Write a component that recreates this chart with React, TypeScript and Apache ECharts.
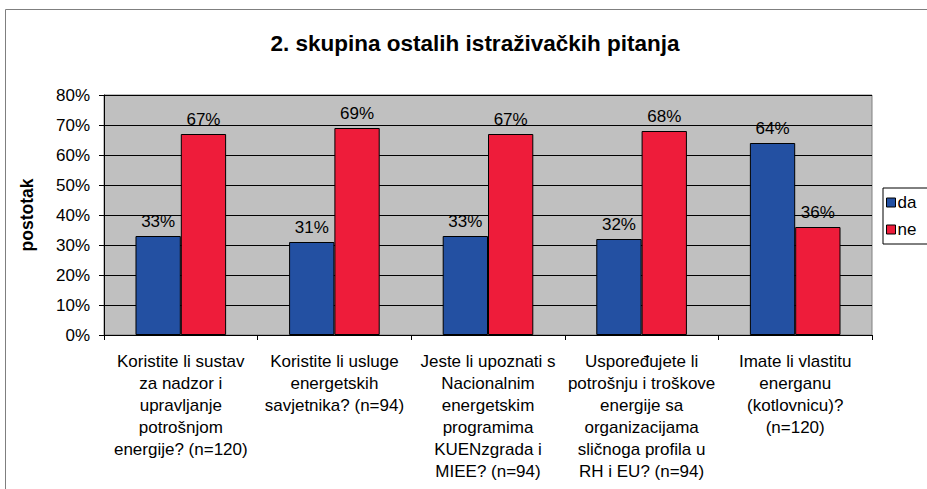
import React, { useEffect, useRef } from "react";
import * as echarts from "echarts";

const categories = [
  "Koristite li sustav\nza nadzor i\nupravljanje\npotrošnjom\nenergije? (n=120)",
  "Koristite li usluge\nenergetskih\nsavjetnika? (n=94)",
  "Jeste li upoznati s\nNacionalnim\nenergetskim\nprogramima\nKUENzgrada i\nMIEE? (n=94)",
  "Uspoređujete li\npotrošnju i troškove\nenergije sa\norganizacijama\nsličnoga profila u\nRH i EU? (n=94)",
  "Imate li vlastitu\nenerganu\n(kotlovnicu)?\n(n=120)",
];
const daValues = [33, 31, 33, 32, 64];
const neValues = [67, 69, 67, 68, 36];
const yTicks = { min: 0, max: 80, interval: 10 };

const FONT = "'Liberation Sans', Arial, sans-serif";

export default function App() {
  const ref = useRef<HTMLDivElement>(null);
  useEffect(() => {
    if (!ref.current) return;
    const chart = echarts.init(ref.current, undefined, { renderer: "svg" });
    const label = {
      show: true,
      position: "top",
      distance: 6,
      formatter: "{c}%",
      color: "#000",
      fontFamily: FONT,
      fontSize: 17,
    };
    chart.setOption({
      animation: false,
      backgroundColor: "#fff",
      textStyle: { fontFamily: FONT },
      title: {
        text: "2. skupina ostalih istraživačkih pitanja",
        left: 470,
        textAlign: "center",
        top: 27,
        textStyle: { fontFamily: FONT, fontSize: 22.5, fontWeight: "bold", color: "#000" },
      },
      graphic: [
        {
          type: "rect",
          shape: { x: 5.5, y: 9.5, width: 1000, height: 1000 },
          style: { fill: "none", stroke: "#7f7f7f", lineWidth: 1 },
          silent: true,
          z: -10,
        },
      ],
      legend: {
        orient: "vertical",
        left: 883,
        top: 188,
        itemWidth: 9,
        itemHeight: 9,
        itemGap: 10,
        padding: [6, 30, 6, 3],
        borderColor: "#000",
        borderWidth: 1,
        backgroundColor: "#fff",
        icon: "rect",
        itemStyle: { borderColor: "#000", borderWidth: 1 },
        textStyle: { fontFamily: FONT, fontSize: 17, color: "#000", padding: [0, 0, 0, -3] },
        data: ["da", "ne"],
      },
      grid: {
        left: 104,
        right: 55,
        top: 95,
        bottom: 154,
        show: true,
        backgroundColor: "#c0c0c0",
        borderColor: "#808080",
        borderWidth: 1,
        containLabel: false,
      },
      xAxis: {
        type: "category",
        data: categories,
        axisLine: { lineStyle: { color: "#000", width: 1 } },
        axisTick: { show: true, length: 5, lineStyle: { color: "#000" } },
        axisLabel: {
          interval: 0,
          margin: 15,
          color: "#000",
          fontFamily: FONT,
          fontSize: 17,
          lineHeight: 22,
          align: "center",
        },
      },
      yAxis: {
        type: "value",
        min: yTicks.min,
        max: yTicks.max,
        interval: yTicks.interval,
        name: "postotak",
        nameLocation: "middle",
        nameGap: 68,
        nameRotate: 90,
        nameTextStyle: { fontFamily: FONT, fontSize: 17.5, fontWeight: "bold", color: "#000" },
        axisLine: { show: true, lineStyle: { color: "#000", width: 1 } },
        axisTick: { show: true, length: 5, lineStyle: { color: "#000" } },
        axisLabel: {
          formatter: "{value}%",
          margin: 14,
          color: "#000",
          fontFamily: FONT,
          fontSize: 17,
        },
        splitLine: { show: true, lineStyle: { color: "#000", width: 1 } },
      },
      series: [
        {
          name: "da",
          type: "bar",
          data: daValues,
          barGap: "0%",
          barCategoryGap: "41%",
          itemStyle: { color: "#2350a2", borderColor: "#000", borderWidth: 1 },
          label,
        },
        {
          name: "ne",
          type: "bar",
          data: neValues,
          itemStyle: { color: "#ee1c3a", borderColor: "#000", borderWidth: 1 },
          label,
        },
      ],
    });
    return () => chart.dispose();
  }, []);
  return (
    <div
      ref={ref}
      style={{ position: "fixed", left: 0, top: 0, width: 927, height: 489 }}
    />
  );
}
